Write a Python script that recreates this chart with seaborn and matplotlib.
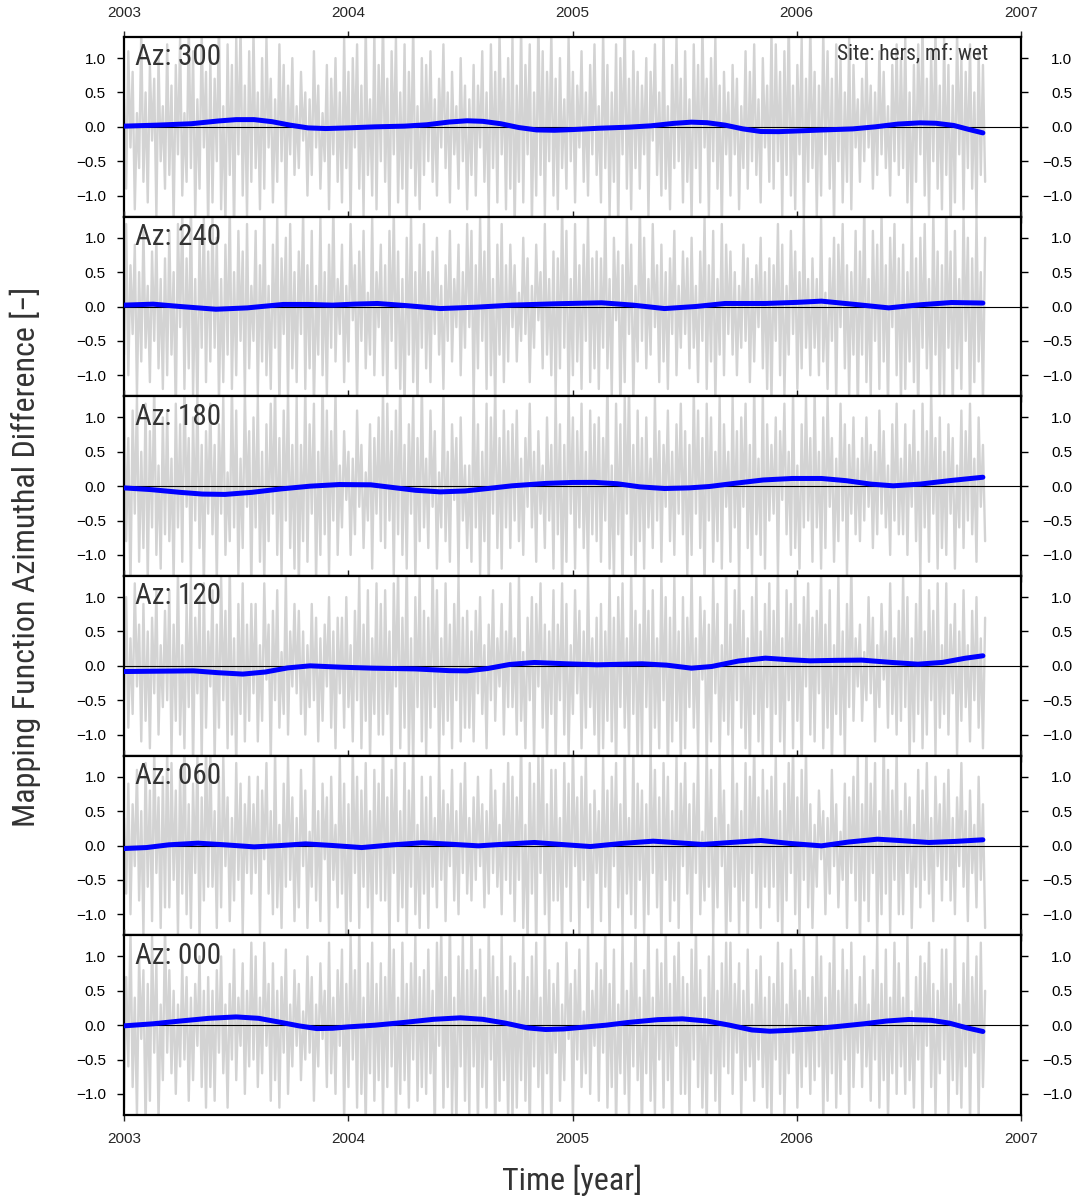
import os
import numpy as np
import matplotlib
matplotlib.use("Agg")
import matplotlib.pyplot as plt
import seaborn as sns
from matplotlib import font_manager as fm
from matplotlib.font_manager import FontProperties
from matplotlib.ticker import FuncFormatter

# ---------------- data ----------------
T_START, T_END = 2003.0, 2006.84
year_ticks = [2003, 2004, 2005, 2006, 2007]
y_ticks = [-1.0, -0.5, 0.0, 0.5, 1.0]
site_text = "Site: hers, mf: wet"
x_title = "Time [year]"
y_title = "Mapping Function Azimuthal Difference [\u2212]"
panel_labels = ["Az: 300", "Az: 240", "Az: 180", "Az: 120", "Az: 060", "Az: 000"]

# raw gray series, values in tenths of a unit
gray_az300_tenths = [
    4,-9,11,-3,8,-12,2,-6,14,-8,5,-11,9,-2,7,-13,10,-5,3,-9,
    12,-7,6,-14,9,-4,13,-10,2,-8,15,-6,11,-13,4,-9,14,-3,8,-15,
    10,-11,7,-5,16,-12,3,-14,12,-7,9,-16,13,-4,15,-10,6,-13,11,-8,
    14,-6,5,-12,10,-9,13,-3,7,-11,4,-8,12,-5,9,-13,6,-4,10,-7,
    3,-6,8,-2,5,-10,4,-7,11,-3,6,-9,2,-5,9,-12,7,-4,10,-8,
    5,-11,13,-6,8,-14,10,-3,12,-9,6,-13,15,-7,4,-10,14,-12,9,-5,
    16,-8,7,-15,11,-4,13,-11,5,-9,12,-14,8,-6,15,-10,3,-12,10,-7,
    9,-5,11,-8,4,-10,7,-3,12,-6,5,-11,8,-4,3,-9,10,-5,6,-12,
    4,-7,9,-10,6,-3,11,-8,5,-13,12,-6,8,-11,14,-4,7,-12,10,-9,
    13,-15,6,-8,15,-11,9,-4,12,-14,5,-10,16,-7,11,-13,8,-5,14,-10,
    7,-12,10,-6,4,-9,13,-5,8,-11,6,-3,11,-8,5,-10,9,-4,12,-7,
    3,-11,14,-6,9,-13,5,-8,12,-15,10,-4,15,-9,7,-12,11,-6,8,-9,
    6,-4,10,-13,8,-2,12,-7,5,-10,14,-9,3,-12,9,-6,13,-5,7,-11,
    11,-8,4,-14,12,-6,9,-11,15,-3,7,-13,10,-5,13,-9,6,-15,8,-4,
    5,-10,9,-4,7,-12,3,-6,11,-9,8,-5,12,-7,4,-11,10,-3,6,-8,
    14,-9,12,-5,8,-13,11,-7,16,-10,6,-12,9,-4,13,-14,7,-8,15,-6,
    8,-13,6,-10,14,-4,11,-9,7,-15,12,-5,10,-11,5,-8,13,-12,9,-3,
    4,-8,7,-5,10,-3,6,-9,5,-7,11,-4,8,-6,3,-10,9,-5,12,-7,
    10,-6,13,-11,5,-14,9,-8,12,-4,15,-10,7,-13,11,-5,14,-9,6,-12,
    13,-7,9,-15,6,-11,14,-4,10,-12,8,-6,12,-9,5,-13,11,-7,9,-8,
]
gray_az240_tenths = [
    -7,12,-10,6,-4,9,-13,5,-8,11,-6,3,-11,8,-5,10,-9,4,-12,7,
    -10,11,-7,5,-16,12,-3,14,-12,7,-9,16,-13,4,-15,10,-6,13,-11,8,
    -8,13,-6,10,-14,4,-11,9,-7,15,-12,5,-10,11,-5,8,-13,12,-9,3,
    -5,11,-13,6,-8,14,-10,3,-12,9,-6,13,-15,7,-4,10,-14,12,-9,5,
    -11,8,-4,14,-12,6,-9,11,-15,3,-7,13,-10,5,-13,9,-6,15,-8,4,
    -4,9,-11,3,-8,12,-2,6,-14,8,-5,11,-9,2,-7,13,-10,5,-3,9,
    -10,6,-13,11,-5,14,-9,8,-12,4,-15,10,-7,13,-11,5,-14,9,-6,12,
    -9,5,-11,8,-4,10,-7,3,-12,6,-5,11,-8,4,-3,9,-10,5,-6,12,
    -3,11,-14,6,-9,13,-5,8,-12,15,-10,4,-15,9,-7,12,-11,6,-8,9,
    -3,6,-8,2,-5,10,-4,7,-11,3,-6,9,-2,5,-9,12,-7,4,-10,8,
    -13,7,-9,15,-6,11,-14,4,-10,12,-8,6,-12,9,-5,13,-11,7,-9,8,
    -12,7,-6,14,-9,4,-13,10,-2,8,-15,6,-11,13,-4,9,-14,3,-8,15,
    -5,10,-9,4,-7,12,-3,6,-11,9,-8,5,-12,7,-4,11,-10,3,-6,8,
    -4,7,-9,10,-6,3,-11,8,-5,13,-12,6,-8,11,-14,4,-7,12,-10,9,
    -4,8,-7,5,-10,3,-6,9,-5,7,-11,4,-8,6,-3,10,-9,5,-12,7,
    -14,6,-5,12,-10,9,-13,3,-7,11,-4,8,-12,5,-9,13,-6,4,-10,7,
    -6,4,-10,13,-8,2,-12,7,-5,10,-14,9,-3,12,-9,6,-13,5,-7,11,
    -16,8,-7,15,-11,4,-13,11,-5,9,-12,14,-8,6,-15,10,-3,12,-10,7,
    -14,9,-12,5,-8,13,-11,7,-16,10,-6,12,-9,4,-13,14,-7,8,-15,6,
    -13,15,-6,8,-15,11,-9,4,-12,14,-5,10,-16,7,-11,13,-8,5,-14,10,
]
gray_az180_tenths = [
    16,-8,7,-15,11,-4,13,-11,5,-9,12,-14,8,-6,15,-10,3,-12,10,-7,
    11,-8,4,-14,12,-6,9,-11,15,-3,7,-13,10,-5,13,-9,6,-15,8,-4,
    12,-7,6,-14,9,-4,13,-10,2,-8,15,-6,11,-13,4,-9,14,-3,8,-15,
    10,-6,13,-11,5,-14,9,-8,12,-4,15,-10,7,-13,11,-5,14,-9,6,-12,
    13,-15,6,-8,15,-11,9,-4,12,-14,5,-10,16,-7,11,-13,8,-5,14,-10,
    3,-6,8,-2,5,-10,4,-7,11,-3,6,-9,2,-5,9,-12,7,-4,10,-8,
    14,-9,12,-5,8,-13,11,-7,16,-10,6,-12,9,-4,13,-14,7,-8,15,-6,
    4,-9,11,-3,8,-12,2,-6,14,-8,5,-11,9,-2,7,-13,10,-5,3,-9,
    3,-11,14,-6,9,-13,5,-8,12,-15,10,-4,15,-9,7,-12,11,-6,8,-9,
    9,-5,11,-8,4,-10,7,-3,12,-6,5,-11,8,-4,3,-9,10,-5,6,-12,
    13,-7,9,-15,6,-11,14,-4,10,-12,8,-6,12,-9,5,-13,11,-7,9,-8,
    10,-11,7,-5,16,-12,3,-14,12,-7,9,-16,13,-4,15,-10,6,-13,11,-8,
    7,-12,10,-6,4,-9,13,-5,8,-11,6,-3,11,-8,5,-10,9,-4,12,-7,
    8,-13,6,-10,14,-4,11,-9,7,-15,12,-5,10,-11,5,-8,13,-12,9,-3,
    5,-11,13,-6,8,-14,10,-3,12,-9,6,-13,15,-7,4,-10,14,-12,9,-5,
    6,-4,10,-13,8,-2,12,-7,5,-10,14,-9,3,-12,9,-6,13,-5,7,-11,
    14,-6,5,-12,10,-9,13,-3,7,-11,4,-8,12,-5,9,-13,6,-4,10,-7,
    4,-8,7,-5,10,-3,6,-9,5,-7,11,-4,8,-6,3,-10,9,-5,12,-7,
    4,-7,9,-10,6,-3,11,-8,5,-13,12,-6,8,-11,14,-4,7,-12,10,-9,
    5,-10,9,-4,7,-12,3,-6,11,-9,8,-5,12,-7,4,-11,10,-3,6,-8,
]
gray_az120_tenths = [
    -5,10,-9,4,-7,12,-3,6,-11,9,-8,5,-12,7,-4,11,-10,3,-6,8,
    -5,11,-13,6,-8,14,-10,3,-12,9,-6,13,-15,7,-4,10,-14,12,-9,5,
    -3,11,-14,6,-9,13,-5,8,-12,15,-10,4,-15,9,-7,12,-11,6,-8,9,
    -4,9,-11,3,-8,12,-2,6,-14,8,-5,11,-9,2,-7,13,-10,5,-3,9,
    -4,8,-7,5,-10,3,-6,9,-5,7,-11,4,-8,6,-3,10,-9,5,-12,7,
    -4,7,-9,10,-6,3,-11,8,-5,13,-12,6,-8,11,-14,4,-7,12,-10,9,
    -10,11,-7,5,-16,12,-3,14,-12,7,-9,16,-13,4,-15,10,-6,13,-11,8,
    -13,7,-9,15,-6,11,-14,4,-10,12,-8,6,-12,9,-5,13,-11,7,-9,8,
    -9,5,-11,8,-4,10,-7,3,-12,6,-5,11,-8,4,-3,9,-10,5,-6,12,
    -6,4,-10,13,-8,2,-12,7,-5,10,-14,9,-3,12,-9,6,-13,5,-7,11,
    -14,6,-5,12,-10,9,-13,3,-7,11,-4,8,-12,5,-9,13,-6,4,-10,7,
    -14,9,-12,5,-8,13,-11,7,-16,10,-6,12,-9,4,-13,14,-7,8,-15,6,
    -13,15,-6,8,-15,11,-9,4,-12,14,-5,10,-16,7,-11,13,-8,5,-14,10,
    -12,7,-6,14,-9,4,-13,10,-2,8,-15,6,-11,13,-4,9,-14,3,-8,15,
    -10,6,-13,11,-5,14,-9,8,-12,4,-15,10,-7,13,-11,5,-14,9,-6,12,
    -16,8,-7,15,-11,4,-13,11,-5,9,-12,14,-8,6,-15,10,-3,12,-10,7,
    -11,8,-4,14,-12,6,-9,11,-15,3,-7,13,-10,5,-13,9,-6,15,-8,4,
    -3,6,-8,2,-5,10,-4,7,-11,3,-6,9,-2,5,-9,12,-7,4,-10,8,
    -8,13,-6,10,-14,4,-11,9,-7,15,-12,5,-10,11,-5,8,-13,12,-9,3,
    -7,12,-10,6,-4,9,-13,5,-8,11,-6,3,-11,8,-5,10,-9,4,-12,7,
]
gray_az060_tenths = [
    4,-7,9,-10,6,-3,11,-8,5,-13,12,-6,8,-11,14,-4,7,-12,10,-9,
    14,-9,12,-5,8,-13,11,-7,16,-10,6,-12,9,-4,13,-14,7,-8,15,-6,
    14,-6,5,-12,10,-9,13,-3,7,-11,4,-8,12,-5,9,-13,6,-4,10,-7,
    6,-4,10,-13,8,-2,12,-7,5,-10,14,-9,3,-12,9,-6,13,-5,7,-11,
    4,-9,11,-3,8,-12,2,-6,14,-8,5,-11,9,-2,7,-13,10,-5,3,-9,
    13,-7,9,-15,6,-11,14,-4,10,-12,8,-6,12,-9,5,-13,11,-7,9,-8,
    16,-8,7,-15,11,-4,13,-11,5,-9,12,-14,8,-6,15,-10,3,-12,10,-7,
    7,-12,10,-6,4,-9,13,-5,8,-11,6,-3,11,-8,5,-10,9,-4,12,-7,
    4,-8,7,-5,10,-3,6,-9,5,-7,11,-4,8,-6,3,-10,9,-5,12,-7,
    10,-11,7,-5,16,-12,3,-14,12,-7,9,-16,13,-4,15,-10,6,-13,11,-8,
    11,-8,4,-14,12,-6,9,-11,15,-3,7,-13,10,-5,13,-9,6,-15,8,-4,
    5,-11,13,-6,8,-14,10,-3,12,-9,6,-13,15,-7,4,-10,14,-12,9,-5,
    8,-13,6,-10,14,-4,11,-9,7,-15,12,-5,10,-11,5,-8,13,-12,9,-3,
    12,-7,6,-14,9,-4,13,-10,2,-8,15,-6,11,-13,4,-9,14,-3,8,-15,
    3,-11,14,-6,9,-13,5,-8,12,-15,10,-4,15,-9,7,-12,11,-6,8,-9,
    10,-6,13,-11,5,-14,9,-8,12,-4,15,-10,7,-13,11,-5,14,-9,6,-12,
    3,-6,8,-2,5,-10,4,-7,11,-3,6,-9,2,-5,9,-12,7,-4,10,-8,
    13,-15,6,-8,15,-11,9,-4,12,-14,5,-10,16,-7,11,-13,8,-5,14,-10,
    5,-10,9,-4,7,-12,3,-6,11,-9,8,-5,12,-7,4,-11,10,-3,6,-8,
    9,-5,11,-8,4,-10,7,-3,12,-6,5,-11,8,-4,3,-9,10,-5,6,-12,
]
gray_az000_tenths = [
    -12,7,-6,14,-9,4,-13,10,-2,8,-15,6,-11,13,-4,9,-14,3,-8,15,
    -4,8,-7,5,-10,3,-6,9,-5,7,-11,4,-8,6,-3,10,-9,5,-12,7,
    -9,5,-11,8,-4,10,-7,3,-12,6,-5,11,-8,4,-3,9,-10,5,-6,12,
    -5,10,-9,4,-7,12,-3,6,-11,9,-8,5,-12,7,-4,11,-10,3,-6,8,
    -3,6,-8,2,-5,10,-4,7,-11,3,-6,9,-2,5,-9,12,-7,4,-10,8,
    -3,11,-14,6,-9,13,-5,8,-12,15,-10,4,-15,9,-7,12,-11,6,-8,9,
    -13,7,-9,15,-6,11,-14,4,-10,12,-8,6,-12,9,-5,13,-11,7,-9,8,
    -10,11,-7,5,-16,12,-3,14,-12,7,-9,16,-13,4,-15,10,-6,13,-11,8,
    -13,15,-6,8,-15,11,-9,4,-12,14,-5,10,-16,7,-11,13,-8,5,-14,10,
    -14,9,-12,5,-8,13,-11,7,-16,10,-6,12,-9,4,-13,14,-7,8,-15,6,
    -4,9,-11,3,-8,12,-2,6,-14,8,-5,11,-9,2,-7,13,-10,5,-3,9,
    -11,8,-4,14,-12,6,-9,11,-15,3,-7,13,-10,5,-13,9,-6,15,-8,4,
    -16,8,-7,15,-11,4,-13,11,-5,9,-12,14,-8,6,-15,10,-3,12,-10,7,
    -10,6,-13,11,-5,14,-9,8,-12,4,-15,10,-7,13,-11,5,-14,9,-6,12,
    -7,12,-10,6,-4,9,-13,5,-8,11,-6,3,-11,8,-5,10,-9,4,-12,7,
    -14,6,-5,12,-10,9,-13,3,-7,11,-4,8,-12,5,-9,13,-6,4,-10,7,
    -8,13,-6,10,-14,4,-11,9,-7,15,-12,5,-10,11,-5,8,-13,12,-9,3,
    -4,7,-9,10,-6,3,-11,8,-5,13,-12,6,-8,11,-14,4,-7,12,-10,9,
    -6,4,-10,13,-8,2,-12,7,-5,10,-14,9,-3,12,-9,6,-13,5,-7,11,
    -5,11,-13,6,-8,14,-10,3,-12,9,-6,13,-15,7,-4,10,-14,12,-9,5,
]

blue_az300_years = [2003.0, 2003.15, 2003.3, 2003.42, 2003.5, 2003.58, 2003.66, 2003.74, 2003.82, 2003.9,
                    2004.0, 2004.12, 2004.25, 2004.35, 2004.45, 2004.53, 2004.6, 2004.68, 2004.76, 2004.84,
                    2004.92, 2005.0, 2005.12, 2005.25, 2005.35, 2005.45, 2005.53, 2005.6, 2005.68, 2005.76,
                    2005.84, 2005.92, 2006.0, 2006.12, 2006.25, 2006.35, 2006.45, 2006.55, 2006.62, 2006.7,
                    2006.77, 2006.83]
blue_az300 = [0.01, 0.025, 0.045, 0.085, 0.105, 0.105, 0.075, 0.025, -0.015, -0.025,
              -0.015, 0.0, 0.01, 0.03, 0.07, 0.088, 0.08, 0.045, -0.01, -0.045,
              -0.05, -0.04, -0.02, -0.005, 0.015, 0.05, 0.068, 0.06, 0.025, -0.03,
              -0.068, -0.07, -0.06, -0.045, -0.03, 0.0, 0.04, 0.058, 0.052, 0.02,
              -0.04, -0.088]
blue_az240_years = [2003.0, 2003.13, 2003.25, 2003.41, 2003.55, 2003.71, 2003.82, 2003.93, 2004.03, 2004.13,
                    2004.27, 2004.41, 2004.57, 2004.73, 2004.93, 2005.13, 2005.27, 2005.41, 2005.55, 2005.68,
                    2005.86, 2006.0, 2006.11, 2006.26, 2006.41, 2006.55, 2006.69, 2006.83]
blue_az240 = [0.02, 0.034, 0.0, -0.04, -0.02, 0.03, 0.03, 0.02, 0.035, 0.044,
              0.01, -0.03, -0.01, 0.02, 0.04, 0.054, 0.02, -0.03, 0.0, 0.044,
              0.044, 0.06, 0.078, 0.03, -0.02, 0.025, 0.058, 0.05]
blue_az180_years = [2003.0, 2003.12, 2003.25, 2003.35, 2003.45, 2003.57, 2003.7, 2003.83, 2003.96, 2004.1,
                    2004.2, 2004.3, 2004.41, 2004.52, 2004.62, 2004.73, 2004.88, 2005.0, 2005.1, 2005.2,
                    2005.3, 2005.41, 2005.52, 2005.61, 2005.72, 2005.85, 2005.98, 2006.11, 2006.22, 2006.33,
                    2006.43, 2006.55, 2006.68, 2006.83]
blue_az180 = [-0.025, -0.05, -0.09, -0.115, -0.12, -0.09, -0.04, 0.0, 0.024, 0.02,
              -0.02, -0.06, -0.083, -0.07, -0.035, 0.005, 0.04, 0.054, 0.055, 0.035,
              -0.01, -0.034, -0.025, -0.005, 0.04, 0.09, 0.112, 0.112, 0.08, 0.03,
              0.005, 0.03, 0.08, 0.13]
blue_az120_years = [2003.0, 2003.15, 2003.31, 2003.42, 2003.53, 2003.63, 2003.73, 2003.83, 2003.97, 2004.11,
                    2004.3, 2004.45, 2004.53, 2004.62, 2004.72, 2004.83, 2004.97, 2005.11, 2005.31, 2005.42,
                    2005.53, 2005.62, 2005.74, 2005.86, 2005.96, 2006.06, 2006.18, 2006.29, 2006.42, 2006.54,
                    2006.65, 2006.75, 2006.83]
blue_az120 = [-0.083, -0.078, -0.073, -0.1, -0.12, -0.09, -0.03, 0.0, -0.02, -0.034,
              -0.045, -0.07, -0.073, -0.04, 0.02, 0.049, 0.03, 0.015, 0.03, 0.01,
              -0.034, -0.01, 0.07, 0.112, 0.09, 0.073, 0.08, 0.083, 0.05, 0.024,
              0.05, 0.11, 0.146]
blue_az060_years = [2003.0, 2003.1, 2003.2, 2003.33, 2003.45, 2003.58, 2003.7, 2003.81, 2003.93, 2004.06,
                    2004.2, 2004.33, 2004.45, 2004.58, 2004.7, 2004.83, 2004.95, 2005.08, 2005.22, 2005.36,
                    2005.47, 2005.58, 2005.71, 2005.84, 2005.97, 2006.11, 2006.23, 2006.36, 2006.47, 2006.59,
                    2006.71, 2006.83]
blue_az060 = [-0.044, -0.03, 0.01, 0.034, 0.01, -0.02, 0.0, 0.024, 0.0, -0.03,
              0.01, 0.04, 0.02, -0.005, 0.02, 0.044, 0.015, -0.015, 0.03, 0.063,
              0.04, 0.015, 0.045, 0.073, 0.03, -0.005, 0.05, 0.092, 0.07, 0.044,
              0.06, 0.083]
blue_az000_years = [2003.0, 2003.13, 2003.25, 2003.38, 2003.5, 2003.6, 2003.7, 2003.78, 2003.86, 2003.93,
                    2004.0, 2004.12, 2004.25, 2004.38, 2004.5, 2004.6, 2004.7, 2004.8, 2004.88, 2004.96,
                    2005.03, 2005.15, 2005.25, 2005.38, 2005.49, 2005.6, 2005.7, 2005.8, 2005.88, 2005.97,
                    2006.07, 2006.18, 2006.3, 2006.4, 2006.5, 2006.6, 2006.68, 2006.76, 2006.83]
blue_az000 = [-0.01, 0.02, 0.06, 0.1, 0.12, 0.1, 0.04, -0.01, -0.05, -0.045,
              -0.025, 0.0, 0.04, 0.085, 0.107, 0.085, 0.03, -0.04, -0.063, -0.055,
              -0.035, 0.0, 0.04, 0.08, 0.092, 0.06, 0.0, -0.07, -0.088, -0.075,
              -0.054, -0.02, 0.02, 0.06, 0.083, 0.07, 0.03, -0.04, -0.092]

gray_series = [gray_az300_tenths, gray_az240_tenths, gray_az180_tenths,
               gray_az120_tenths, gray_az060_tenths, gray_az000_tenths]
blue_years = [blue_az300_years, blue_az240_years, blue_az180_years,
              blue_az120_years, blue_az060_years, blue_az000_years]
blue_series = [blue_az300, blue_az240, blue_az180, blue_az120, blue_az060, blue_az000]

# ---------------- fonts ----------------
sns.set_style("ticks")
plt.rcParams["font.family"] = ["Liberation Sans", "DejaVu Sans"]
plt.rcParams["axes.unicode_minus"] = True


def find_condensed():
    prefs = ["liberationsansnarrow-regular", "liberationsansnarrow.ttf", "arialn",
             "robotocondensed-regular", "roboto_condensed-regular",
             "notosans-condensed.", "notosanscondensed-regular",
             "opensans_condensed-regular", "opensanscondensed-regular",
             "dejavusanscondensed."]
    files = [f.fname for f in fm.fontManager.ttflist]
    for p in prefs:
        for fn in files:
            if p in os.path.basename(fn).lower().replace(" ", ""):
                return fn
    for f in fm.fontManager.ttflist:
        b = os.path.basename(f.fname).lower()
        if ("narrow" in b or "condensed" in b) and not any(
                k in b for k in ("bold", "italic", "light", "thin", "black", "medium",
                                 "semi", "extra", "oblique", "mono", "serif")):
            return f.fname
    return None


COND = find_condensed()


def tfont(size):
    if COND:
        return FontProperties(fname=COND, size=size)
    return FontProperties(family=["Liberation Sans", "DejaVu Sans"], size=size * 0.89)


TXT = "#333333"

# ---------------- figure ----------------
fig = plt.figure(figsize=(10.87, 12.01), dpi=100)
axes = fig.subplots(6, 1, sharex=True)
fig.subplots_adjust(left=124 / 1087, right=1021 / 1087, top=1 - 37 / 1201,
                    bottom=1 - 1115 / 1201, hspace=0)

fmt = FuncFormatter(lambda v, p: f"{v:.1f}".replace("-", "\u2212"))
YL = 1.307

for i, ax in enumerate(axes):
    g = np.asarray(gray_series[i], dtype=float) / 10.0
    t = np.linspace(T_START, T_END, len(g))
    sns.lineplot(x=t, y=g, ax=ax, color="#d3d3d3", linewidth=1.7,
                 estimator=None, sort=False, zorder=1)
    ax.axhline(0, color="black", linewidth=0.8, zorder=2)
    sns.lineplot(x=blue_years[i], y=blue_series[i], ax=ax, color="#0000ff",
                 linewidth=3.6, estimator=None, sort=False, zorder=3)
    ax.set_xlim(year_ticks[0], year_ticks[-1])
    ax.set_ylim(-YL, YL)
    ax.set_xticks(year_ticks)
    ax.set_yticks(y_ticks)
    ax.yaxis.set_major_formatter(fmt)
    ax.set_xlabel("")
    ax.set_ylabel("")
    for s in ax.spines.values():
        s.set_visible(True)
        s.set_linewidth(1.6)
        s.set_color("black")
    ax.tick_params(axis="y", left=True, right=False, labelleft=True, labelright=False,
                   direction="out", length=5, width=1, pad=8, labelsize=11, colors="black")
    ax.tick_params(axis="x", top=True, bottom=True, direction="out", length=4, width=1,
                   labeltop=(i == 0), labelbottom=(i == 5), labelsize=11, pad=8)
    ax.text(0.012, 0.965, panel_labels[i], transform=ax.transAxes, ha="left", va="top",
            fontproperties=tfont(21), color=TXT, zorder=5)

    ax2 = ax.twinx()
    ax2.set_ylim(-YL, YL)
    ax2.set_yticks(y_ticks)
    ax2.yaxis.set_major_formatter(fmt)
    ax2.tick_params(axis="y", right=True, direction="out", length=5, width=1,
                    pad=32, labelsize=11, colors="black")
    for lab in ax2.get_yticklabels():
        lab.set_horizontalalignment("right")
    for s in ax2.spines.values():
        s.set_visible(False)
    ax2.grid(False)

axes[0].text(0.963, 0.965, site_text, transform=axes[0].transAxes, ha="right", va="top",
             fontproperties=tfont(15.5), color=TXT, zorder=5)

fig.text(572 / 1087, 1 - 1180 / 1201, x_title, ha="center", va="center",
         fontproperties=tfont(23), color=TXT)
fig.text(25 / 1087, 1 - 557 / 1201, y_title, ha="center", va="center", rotation=90,
         fontproperties=tfont(23), color=TXT)

fig.savefig("out.png", dpi=100)
